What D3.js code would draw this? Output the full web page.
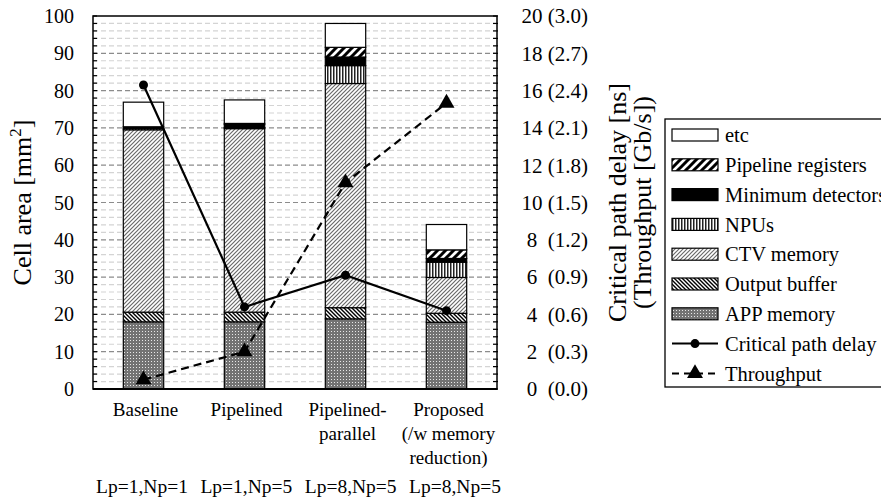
<!DOCTYPE html>
<html>
<head>
<meta charset="utf-8">
<script src="https://cdn.jsdelivr.net/npm/d3@7"></script>
<style>
  body { margin: 0; background: #fff; }
  svg { display: block; }
  text { font-family: "Liberation Serif", "Times New Roman", serif; white-space: pre; }
</style>
</head>
<body>
<svg id="chart"></svg>
<script>
// categories and per-config labels
const categories = ["Baseline", "Pipelined", "Pipelined-parallel", "Proposed"];
const categoryLines = [["Baseline"], ["Pipelined"], ["Pipelined-", "parallel"], ["Proposed", "(/w memory", "reduction)"]];
const configLabels = ["Lp=1,Np=1", "Lp=1,Np=5", "Lp=8,Np=5", "Lp=8,Np=5"];

// stacked cell area [mm2], bottom to top
const appMemory = [18.0, 18.0, 18.8, 17.9];
const outputBuffer = [2.6, 2.6, 3.0, 2.4];
const ctvMemory = [48.9, 49.2, 60.1, 9.6];
const npus = [0.4, 0.3, 4.8, 4.1];
const minDetectors = [0.4, 0.8, 2.3, 1.0];
const pipelineRegs = [0.0, 0.3, 2.6, 2.3];
const etc = [6.6, 6.3, 6.4, 6.8];

// lines
const criticalPath = [16.3, 4.4, 6.1, 4.2];   // ns
const throughput = [0.075, 0.3, 1.66, 2.3];   // Gb/s

const leftTicks = [0, 10, 20, 30, 40, 50, 60, 70, 80, 90, 100];
const rightTicks = [0, 2, 4, 6, 8, 10, 12, 14, 16, 18, 20];

const width = 881, height = 499;
const svg = d3.select("#chart").attr("width", width).attr("height", height);

const margin = { top: 16, right: 384, bottom: 110, left: 93 };
const x0 = margin.left, x1 = width - margin.right;
const yTop = margin.top, yBot = height - margin.bottom;

const xScale = d3.scaleBand().domain(categories).range([x0, x1]).paddingInner(0.6).paddingOuter(0.3);
const yScale = d3.scaleLinear().domain([0, 100]).range([yBot, yTop]);
const yDelay = d3.scaleLinear().domain([0, 20]).range([yBot, yTop]);
const yThru = d3.scaleLinear().domain([0, 3]).range([yBot, yTop]);

// patterns
const defs = svg.append("defs");
function pat(id, w, h, build) {
    const p = defs.append("pattern").attr("id", id).attr("patternUnits", "userSpaceOnUse")
        .attr("width", w).attr("height", h);
    build(p);
}
pat("p-app", 3, 3, p => {
    p.append("rect").attr("width", 3).attr("height", 3).attr("fill", "#737373");
    p.append("rect").attr("x", 1).attr("y", 1).attr("width", 1).attr("height", 1).attr("fill", "#e8e8e8");
});
pat("p-out", 4, 4, p => {
    p.append("rect").attr("width", 4).attr("height", 4).attr("fill", "#fff");
    p.append("path").attr("d", "M-1,-1 L5,5 M-1,3 L1,5 M3,-1 L5,1").attr("stroke", "#000").attr("stroke-width", 1.4);
});
pat("p-ctv", 4, 4, p => {
    p.append("rect").attr("width", 4).attr("height", 4).attr("fill", "#fff");
    p.append("path").attr("d", "M-1,5 L5,-1 M-1,1 L1,-1 M3,5 L5,3").attr("stroke", "#6a6a6a").attr("stroke-width", 1.2);
});
pat("p-npu", 3, 4, p => {
    p.append("rect").attr("width", 3).attr("height", 4).attr("fill", "#fff");
    p.append("rect").attr("x", 0).attr("width", 1.5).attr("height", 4).attr("fill", "#222");
});
pat("p-reg", 8, 8, p => {
    p.append("rect").attr("width", 8).attr("height", 8).attr("fill", "#fff");
    p.append("path").attr("d", "M-2,10 L10,-2 M-2,2 L2,-2 M6,10 L10,6").attr("stroke", "#000").attr("stroke-width", 3);
});

const series = [
    { name: "APP memory", values: appMemory, fill: "url(#p-app)" },
    { name: "Output buffer", values: outputBuffer, fill: "url(#p-out)" },
    { name: "CTV memory", values: ctvMemory, fill: "url(#p-ctv)" },
    { name: "NPUs", values: npus, fill: "url(#p-npu)" },
    { name: "Minimum detectors", values: minDetectors, fill: "#000" },
    { name: "Pipeline registers", values: pipelineRegs, fill: "url(#p-reg)" },
    { name: "etc", values: etc, fill: "#fff" }
];

const table = categories.map((c, i) => {
    const row = { cat: c };
    series.forEach(s => row[s.name] = s.values[i]);
    return row;
});
const stacked = d3.stack().keys(series.map(s => s.name))(table);

// grid lines
const minorVals = d3.range(0, 101, 2).filter(v => v % 10 !== 0);
svg.append("g").selectAll("line").data(minorVals).join("line")
    .attr("x1", x0).attr("x2", x1)
    .attr("y1", d => yScale(d)).attr("y2", d => yScale(d))
    .attr("stroke", "#d4d4d4").attr("stroke-width", 1.2).attr("stroke-dasharray", "5,3");
svg.append("g").selectAll("line").data(leftTicks.filter(v => v > 0 && v < 100)).join("line")
    .attr("x1", x0).attr("x2", x1)
    .attr("y1", d => yScale(d)).attr("y2", d => yScale(d))
    .attr("stroke", "#8c8c8c").attr("stroke-width", 1.2).attr("stroke-dasharray", "5,3");

// bars
svg.append("g").selectAll("g").data(stacked).join("g")
    .attr("fill", (d, i) => series[i].fill)
    .selectAll("rect").data(d => d.filter(p => p[1] - p[0] > 0)).join("rect")
    .attr("x", d => xScale(d.data.cat))
    .attr("width", xScale.bandwidth())
    .attr("y", d => yScale(d[1]))
    .attr("height", d => yScale(d[0]) - yScale(d[1]))
    .attr("stroke", "#000").attr("stroke-width", 1.2);

// frame
svg.append("rect").attr("x", x0).attr("y", yTop).attr("width", x1 - x0).attr("height", yBot - yTop)
    .attr("fill", "none").attr("stroke", "#000").attr("stroke-width", 1.5);
svg.append("line").attr("x1", x0).attr("x2", x1).attr("y1", yBot).attr("y2", yBot)
    .attr("stroke", "#000").attr("stroke-width", 2.2);

// tick marks
const tickVals = d3.range(0, 101, 2);
svg.append("g").selectAll("line").data(tickVals).join("line")
    .attr("x1", x0).attr("x2", x0 + 4)
    .attr("y1", d => yScale(d)).attr("y2", d => yScale(d))
    .attr("stroke", "#000").attr("stroke-width", 1.2);
svg.append("g").selectAll("line").data(tickVals).join("line")
    .attr("x1", x1 - 4).attr("x2", x1 + 1)
    .attr("y1", d => yScale(d)).attr("y2", d => yScale(d))
    .attr("stroke", "#000").attr("stroke-width", 1.2);

// left tick labels
svg.append("g").selectAll("text").data(leftTicks).join("text")
    .attr("x", 74).attr("y", d => yScale(d)).attr("dy", "0.35em")
    .attr("text-anchor", "end").attr("font-size", 20).text(d => d);

// right tick labels
svg.append("g").selectAll("text").data(rightTicks).join("text")
    .attr("x", 588).attr("y", d => yDelay(d)).attr("dy", "0.35em")
    .attr("text-anchor", "end").attr("font-size", 21)
    .text(d => (d >= 10 ? d + " " : d + "  ") + "(" + yThru.invert(yDelay(d)).toFixed(1) + ")");

// axis titles
const lt = svg.append("text").attr("transform", `translate(31,${(yTop + yBot) / 2}) rotate(-90)`)
    .attr("text-anchor", "middle").attr("font-size", 26);
lt.append("tspan").text("Cell area [mm");
lt.append("tspan").attr("font-size", 17).attr("dy", -10).text("2");
lt.append("tspan").attr("dy", 10).text("]");

svg.append("text").attr("transform", `translate(626,${(yTop + yBot) / 2}) rotate(-90)`)
    .attr("text-anchor", "middle").attr("font-size", 26).text("Critical path delay [ns]");
svg.append("text").attr("transform", `translate(651,${(yTop + yBot) / 2}) rotate(-90)`)
    .attr("text-anchor", "middle").attr("font-size", 26).text("(Throughput [Gb/s])");

// category labels
svg.append("g").selectAll("text").data(categories).join("text")
    .attr("x", d => xScale(d) + xScale.bandwidth() / 2 + 2)
    .attr("y", 416).attr("text-anchor", "middle").attr("font-size", 19)
    .each(function (d, i) {
        d3.select(this).selectAll("tspan").data(categoryLines[i]).join("tspan")
            .attr("x", xScale(d) + xScale.bandwidth() / 2 + 2)
            .attr("dy", (t, j) => j === 0 ? 0 : 24).text(t => t);
    });

const xCfg = d3.scalePoint().domain(categories).range([142, 455]);
svg.append("g").selectAll("text").data(categories).join("text")
    .attr("x", d => xCfg(d)).attr("y", 493).attr("text-anchor", "middle").attr("font-size", 19.5)
    .text((d, i) => configLabels[i]);

// lines
const cx = d => xScale(d) + xScale.bandwidth() / 2;
const cpPts = categories.map((c, i) => [cx(c), yDelay(criticalPath[i])]);
const tpPts = categories.map((c, i) => [cx(c), yThru(throughput[i])]);

svg.append("path").attr("d", d3.line()(cpPts)).attr("fill", "none")
    .attr("stroke", "#000").attr("stroke-width", 2.2);
svg.append("path").attr("d", d3.line()(tpPts)).attr("fill", "none")
    .attr("stroke", "#000").attr("stroke-width", 2.2).attr("stroke-dasharray", "8,5");
svg.append("g").selectAll("circle").data(cpPts).join("circle")
    .attr("cx", d => d[0]).attr("cy", d => d[1]).attr("r", 4.5).attr("fill", "#000");
const tri = d3.symbol().type(d3.symbolTriangle).size(110);
svg.append("g").selectAll("path").data(tpPts).join("path")
    .attr("transform", d => `translate(${d[0]},${d[1]})`).attr("d", tri).attr("fill", "#000");

// legend
const lg = svg.append("g");
lg.append("rect").attr("x", 665).attr("y", 119).attr("width", 240).attr("height", 268)
    .attr("fill", "#fff").attr("stroke", "#000").attr("stroke-width", 1.3);
const legendItems = series.slice().reverse().map(s => ({ name: s.name, fill: s.fill, kind: "box" }))
    .concat([{ name: "Critical path delay", kind: "cp" }, { name: "Throughput", kind: "tp" }]);
const rowY = i => 135 + i * 29.8;
legendItems.forEach((it, i) => {
    const y = rowY(i);
    if (it.kind === "box") {
        lg.append("rect").attr("x", 672).attr("y", y - 6).attr("width", 46).attr("height", 12)
            .attr("fill", it.fill).attr("stroke", "#000").attr("stroke-width", 1.2);
    } else if (it.kind === "cp") {
        lg.append("line").attr("x1", 672).attr("x2", 718).attr("y1", y).attr("y2", y)
            .attr("stroke", "#000").attr("stroke-width", 2);
        lg.append("circle").attr("cx", 695).attr("cy", y).attr("r", 4.5).attr("fill", "#000");
    } else {
        lg.append("line").attr("x1", 672).attr("x2", 718).attr("y1", y).attr("y2", y)
            .attr("stroke", "#000").attr("stroke-width", 2).attr("stroke-dasharray", "7,5");
        lg.append("path").attr("transform", `translate(695,${y})`).attr("d", tri).attr("fill", "#000");
    }
    lg.append("text").attr("x", 725).attr("y", y).attr("dy", "0.35em")
        .attr("font-size", 20.5).text(it.name);
});
</script>
</body>
</html>
